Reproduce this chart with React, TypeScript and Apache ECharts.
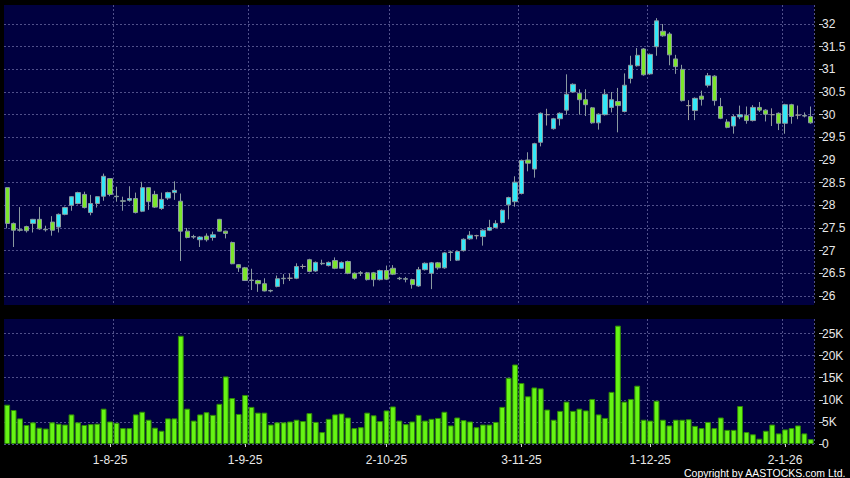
import React, { useEffect, useRef } from "react";
import * as echarts from "echarts";

// Trading days per month (D-M-YY labels are built from these)
const tradingDays: [string, number[]][] = [
  ["7-25", [10, 11, 14, 15, 16, 17, 18, 21, 22, 23, 24, 25, 28, 29, 30, 31]],
  ["8-25", [1, 4, 5, 6, 7, 8, 11, 12, 13, 14, 15, 18, 19, 20, 21, 22, 25, 26, 27, 28, 29]],
  ["9-25", [1, 2, 3, 4, 5, 8, 9, 10, 11, 12, 15, 16, 17, 18, 19, 22, 23, 24, 25, 26, 29, 30]],
  ["10-25", [2, 3, 6, 8, 9, 10, 13, 14, 15, 16, 17, 20, 21, 22, 23, 24, 27, 28, 29, 30, 31]],
  ["11-25", [3, 4, 5, 6, 7, 10, 11, 12, 13, 14, 17, 18, 19, 20, 21, 24, 25, 26, 27, 28]],
  ["12-25", [1, 2, 3, 4, 5, 8, 9, 10, 11, 12, 15, 16, 17, 18, 19, 22, 23, 24, 29, 30, 31]],
  ["1-26", [2, 5, 6, 7, 8]],
];

// Labelled dates on the time axis
const tickLabels = ["1-8-25", "1-9-25", "2-10-25", "3-11-25", "1-12-25", "2-1-26"];

// [open, close, low, high]
const ohlc: number[][] = [
  [28.39, 27.6, 27.49, 28.4], [27.6, 27.45, 27.08, 27.62], [27.46, 27.45, 27.42, 27.96], [27.53, 27.44, 27.4, 27.55],
  [27.6, 27.69, 27.4, 27.7], [27.69, 27.48, 27.46, 27.96], [27.47, 27.46, 27.42, 27.55], [27.63, 27.45, 27.33, 27.76],
  [27.52, 27.8, 27.4, 27.82], [27.8, 27.95, 27.78, 27.97], [28.0, 28.19, 27.88, 28.2], [28.04, 28.28, 28.02, 28.3],
  [28.24, 27.95, 27.93, 28.3], [27.84, 28.04, 27.78, 28.23], [28.04, 28.19, 27.95, 28.2], [28.2, 28.64, 28.1, 28.7],
  [28.59, 28.24, 28.2, 28.6], [28.2, 28.19, 28.08, 28.41], [28.1, 28.09, 27.88, 28.19], [28.11, 28.15, 28.08, 28.42],
  [28.15, 27.84, 27.82, 28.28], [27.87, 28.39, 27.85, 28.52], [28.39, 28.08, 27.9, 28.4], [28.24, 27.96, 27.94, 28.32],
  [27.93, 28.13, 27.9, 28.28], [28.16, 28.28, 28.12, 28.3], [28.28, 28.33, 28.12, 28.53], [28.09, 27.43, 26.77, 28.26],
  [27.43, 27.29, 27.27, 27.5], [27.31, 27.3, 27.26, 27.35], [27.24, 27.3, 27.08, 27.32], [27.32, 27.24, 27.2, 27.38],
  [27.29, 27.35, 27.22, 27.42], [27.69, 27.43, 27.42, 27.7], [27.43, 27.38, 27.27, 27.44], [27.18, 26.71, 26.7, 27.2],
  [26.69, 26.62, 26.53, 26.7], [26.62, 26.34, 26.33, 26.64], [26.35, 26.34, 26.13, 26.6], [26.34, 26.27, 26.09, 26.36],
  [26.27, 26.11, 26.1, 26.39], [26.12, 26.11, 26.08, 26.14], [26.21, 26.38, 26.19, 26.45], [26.39, 26.38, 26.26, 26.48],
  [26.39, 26.39, 26.33, 26.5], [26.39, 26.65, 26.37, 26.72], [26.65, 26.65, 26.6, 26.7], [26.8, 26.54, 26.52, 26.82],
  [26.55, 26.74, 26.53, 26.76], [26.72, 26.71, 26.68, 26.8], [26.67, 26.74, 26.65, 26.76], [26.78, 26.61, 26.59, 26.85],
  [26.61, 26.74, 26.6, 26.76], [26.76, 26.5, 26.48, 26.78], [26.5, 26.39, 26.36, 26.52], [26.51, 26.5, 26.44, 26.55],
  [26.51, 26.36, 26.34, 26.53], [26.51, 26.36, 26.21, 26.53], [26.36, 26.56, 26.34, 26.58], [26.56, 26.37, 26.35, 26.67],
  [26.61, 26.48, 26.46, 26.68], [26.39, 26.38, 26.35, 26.42], [26.38, 26.37, 26.3, 26.42], [26.36, 26.25, 26.16, 26.38],
  [26.22, 26.58, 26.2, 26.64], [26.58, 26.72, 26.56, 26.74], [26.5, 26.73, 26.15, 26.75], [26.73, 26.62, 26.58, 26.75],
  [26.62, 26.95, 26.6, 26.97], [26.96, 26.97, 26.77, 27.0], [26.79, 26.98, 26.77, 27.0], [27.0, 27.25, 26.98, 27.27],
  [27.26, 27.34, 27.24, 27.43], [27.33, 27.33, 27.25, 27.35], [27.31, 27.45, 27.11, 27.47], [27.45, 27.51, 27.43, 27.68],
  [27.51, 27.6, 27.49, 27.67], [27.62, 27.89, 27.6, 27.91], [28.01, 28.17, 27.69, 28.19], [28.08, 28.51, 27.97, 28.64],
  [28.26, 28.99, 28.24, 29.01], [29.0, 28.93, 28.75, 29.17], [28.8, 29.36, 28.61, 29.38], [29.39, 30.03, 29.3, 30.05],
  [30.0, 30.0, 29.76, 30.13], [29.69, 29.91, 29.67, 29.93], [29.91, 30.03, 29.76, 30.05], [30.1, 30.45, 30.0, 30.89],
  [30.5, 30.67, 30.48, 30.69], [30.47, 30.33, 30.0, 30.56], [30.33, 30.22, 29.97, 30.56], [30.15, 29.82, 29.8, 30.17],
  [29.82, 30.01, 29.67, 30.03], [30.0, 30.45, 29.98, 30.56], [30.16, 30.33, 30.05, 30.5], [30.29, 30.2, 29.61, 30.59],
  [30.07, 30.65, 30.05, 30.91], [30.8, 31.09, 30.69, 31.3], [31.08, 31.31, 31.06, 31.47], [31.45, 30.88, 30.86, 31.47],
  [30.9, 31.33, 30.88, 31.35], [31.5, 32.07, 31.3, 32.13], [31.84, 31.74, 31.72, 32.0], [31.78, 31.32, 31.09, 31.82],
  [31.23, 31.06, 30.9, 31.32], [31.0, 30.31, 30.29, 31.1], [30.2, 30.2, 29.88, 30.32], [30.09, 30.36, 29.88, 30.38],
  [30.41, 30.34, 30.2, 30.53], [30.65, 30.86, 30.6, 30.92], [30.85, 30.31, 30.2, 30.87], [30.18, 29.92, 29.9, 30.37],
  [29.84, 29.72, 29.7, 29.9], [29.75, 29.96, 29.58, 30.0], [29.95, 30.0, 29.9, 30.2], [29.98, 29.87, 29.8, 30.18],
  [29.87, 30.16, 29.85, 30.21], [30.16, 30.1, 30.06, 30.28], [30.1, 30.01, 29.85, 30.12], [30.0, 30.0, 29.75, 30.14],
  [30.03, 29.81, 29.66, 30.05], [29.81, 30.22, 29.58, 30.24], [30.22, 29.96, 29.8, 30.24], [29.99, 29.99, 29.9, 30.2],
  [29.98, 29.97, 29.94, 30.05], [29.96, 29.82, 29.8, 30.18],
];

// Volume in thousands of shares
const volumeK: number[] = [
  8.9, 7.7, 5.8, 4.3, 4.9, 3.7, 3.5, 4.9, 4.6, 4.4,
  6.7, 4.9, 4.3, 4.5, 4.6, 8.0, 5.1, 4.8, 3.6, 3.6,
  6.7, 7.3, 5.5, 3.7, 3.0, 5.8, 5.8, 24.5, 8.0, 5.3,
  6.7, 7.2, 6.6, 9.1, 15.3, 10.4, 6.8, 11.1, 8.4, 7.1,
  7.1, 4.4, 4.9, 4.9, 5.1, 5.5, 5.2, 7.0, 5.0, 2.7,
  5.7, 6.7, 6.9, 6.0, 3.6, 3.8, 7.1, 6.5, 5.2, 7.6,
  8.5, 5.3, 4.5, 5.1, 6.6, 5.3, 5.7, 5.9, 7.3, 4.2,
  6.0, 5.4, 5.1, 3.8, 4.4, 4.4, 5.0, 8.4, 15.0, 18.0,
  13.8, 10.8, 12.8, 12.6, 7.8, 5.5, 7.5, 9.6, 7.5, 8.0,
  7.6, 10.2, 6.7, 5.9, 11.8, 26.8, 9.6, 10.2, 13.2, 5.5,
  5.3, 9.8, 5.5, 4.2, 5.5, 5.5, 5.6, 4.1, 3.6, 5.0,
  3.6, 6.0, 3.2, 3.2, 8.6, 2.7, 2.2, 1.2, 3.0, 4.4,
  2.4, 3.3, 3.6, 4.2, 2.4, 1.1,
];

const priceTicks = [26, 26.5, 27, 27.5, 28, 28.5, 29, 29.5, 30, 30.5, 31, 31.5, 32];
const volumeTicks = [0, 5000, 10000, 15000, 20000, 25000];

const FONT = "'Liberation Sans', Arial, sans-serif";
const GRID_LINE = { color: "#50508a", width: 1, type: [2, 2] as any };

export default function App() {
  const ref = useRef<HTMLDivElement>(null);

  useEffect(() => {
    if (!ref.current) return;
    const chart = echarts.init(ref.current, null, { renderer: "svg" });

    const dates: string[] = [];
    tradingDays.forEach(([my, days]) => days.forEach((d) => dates.push(`${d}-${my}`)));
    const labelIdx = new Set(tickLabels.map((t) => dates.indexOf(t)));
    const splitIdx = new Set<number>();
    labelIdx.forEach((i) => splitIdx.add(i < 70 ? i + 1 : i));

    const volumes = volumeK.map((v) => Math.round(v * 1000));

    const axisText = { color: "#e8e8e8", fontSize: 12, lineHeight: 12, fontFamily: FONT };

    chart.setOption({
      animation: false,
      backgroundColor: "#000000",
      grid: [
        { left: 4, right: 36, top: 5, height: 300, show: true, backgroundColor: "#000040", borderWidth: 0, outerBoundsMode: "none" },
        { left: 4, right: 36, top: 319, height: 125, show: true, backgroundColor: "#000040", borderWidth: 0, outerBoundsMode: "none" },
      ],
      xAxis: [
        {
          type: "category",
          gridIndex: 0,
          data: dates,
          boundaryGap: true,
          axisLine: { show: false },
          axisTick: { show: false },
          axisLabel: { show: false },
          splitLine: { show: true, interval: (i: number) => splitIdx.has(i), lineStyle: GRID_LINE },
        },
        {
          type: "category",
          gridIndex: 1,
          data: dates,
          boundaryGap: true,
          offset: 2,
          axisLine: { show: false },
          axisTick: {
            show: true,
            alignWithLabel: true,
            length: 3,
            interval: (i: number) => labelIdx.has(i),
            lineStyle: { color: "#cccccc" },
          },
          axisLabel: {
            ...axisText,
            margin: 8,
            interval: (i: number) => labelIdx.has(i),
          },
          splitLine: { show: true, interval: (i: number) => splitIdx.has(i), lineStyle: GRID_LINE },
        },
      ],
      yAxis: [
        {
          type: "value",
          gridIndex: 0,
          position: "right",
          min: 25.8,
          max: 32.42,
          offset: 5,
          axisLine: { show: false },
          axisTick: { show: true, length: 4, customValues: priceTicks, lineStyle: { color: "#cccccc" } },
          axisLabel: { ...axisText, margin: 3, customValues: priceTicks, formatter: (v: number) => String(v) },
          splitLine: { show: true, lineStyle: GRID_LINE },
        },
        {
          type: "value",
          gridIndex: 1,
          position: "right",
          min: 0,
          max: 28300,
          offset: 5,
          axisLine: { show: false },
          axisTick: { show: true, length: 4, customValues: volumeTicks, lineStyle: { color: "#cccccc" } },
          axisLabel: {
            ...axisText,
            margin: 3,
            customValues: volumeTicks,
            formatter: (v: number) => (v === 0 ? "0" : v / 1000 + "K"),
          },
          splitLine: { show: true, lineStyle: GRID_LINE },
        },
      ],
      series: [
        {
          type: "candlestick",
          xAxisIndex: 0,
          yAxisIndex: 0,
          data: ohlc,
          barWidth: "76%",
          itemStyle: {
            color: "#33e8f8",
            color0: "#7ce62c",
            borderColor: "#8a9aa0",
            borderColor0: "#8a9aa0",
            borderColorDoji: "#9a9a9a",
            borderWidth: 1,
          },
        },
        {
          type: "bar",
          xAxisIndex: 1,
          yAxisIndex: 1,
          data: volumes,
          barCategoryGap: "10%",
          itemStyle: { color: "#66f414", borderColor: "#2f8a06", borderWidth: 1 },
        },
      ],
      graphic: [
        {
          type: "text",
          right: 4,
          top: 467,
          style: {
            text: "Copyright by AASTOCKS.com Ltd.",
            fill: "#ffffff",
            font: `10.5px ${FONT}`,
            lineHeight: 11,
          },
        },
      ],
    });

    return () => chart.dispose();
  }, []);

  return (
    <div
      ref={ref}
      style={{ position: "fixed", left: 0, top: 0, width: 850, height: 478, background: "#000" }}
    />
  );
}
